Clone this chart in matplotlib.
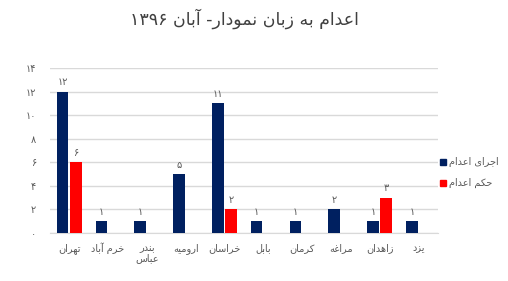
import matplotlib
matplotlib.use("Agg")
import matplotlib.pyplot as plt
import numpy as np
from matplotlib.lines import Line2D

# data
cities = ["تهران", "خرم آباد", "بندر\nعباس", "ارومیه", "خراسان",
          "بابل", "کرمان", "مراغه", "زاهدان", "یزد"]
executed = [12, 1, 1, 5, 11, 1, 1, 2, 1, 1]
sentenced = [6, 0, 0, 0, 2, 0, 0, 0, 3, 0]
series_names = ["اجرای اعدام", "حکم اعدام"]
title = "اعدام به زبان نمودار- آبان ۱۳۹۶"
yticks = [0, 2, 4, 6, 8, 10, 12, 14]

NAVY = "#002060"
RED = "#ff0000"
GREY = "#595959"

# minimal arabic shaping (matplotlib has no complex text layout)
FORMS = {
    "ا": ("\uFE8D", "\uFE8E", None, None),
    "آ": ("\uFE81", "\uFE82", None, None),
    "ب": ("\uFE8F", "\uFE90", "\uFE91", "\uFE92"),
    "ت": ("\uFE95", "\uFE96", "\uFE97", "\uFE98"),
    "ج": ("\uFE9D", "\uFE9E", "\uFE9F", "\uFEA0"),
    "ح": ("\uFEA1", "\uFEA2", "\uFEA3", "\uFEA4"),
    "خ": ("\uFEA5", "\uFEA6", "\uFEA7", "\uFEA8"),
    "د": ("\uFEA9", "\uFEAA", None, None),
    "ر": ("\uFEAD", "\uFEAE", None, None),
    "ز": ("\uFEAF", "\uFEB0", None, None),
    "س": ("\uFEB1", "\uFEB2", "\uFEB3", "\uFEB4"),
    "ع": ("\uFEC9", "\uFECA", "\uFECB", "\uFECC"),
    "غ": ("\uFECD", "\uFECE", "\uFECF", "\uFED0"),
    "ل": ("\uFEDD", "\uFEDE", "\uFEDF", "\uFEE0"),
    "م": ("\uFEE1", "\uFEE2", "\uFEE3", "\uFEE4"),
    "ن": ("\uFEE5", "\uFEE6", "\uFEE7", "\uFEE8"),
    "ه": ("\uFEE9", "\uFEEA", "\uFEEB", "\uFEEC"),
    "و": ("\uFEED", "\uFEEE", None, None),
    "ی": ("\uFBFC", "\uFBFD", "\uFBFE", "\uFBFF"),
    "ک": ("\uFB8E", "\uFB8F", "\uFB90", "\uFB91"),
}
DIGITS = "۰۱۲۳۴۵۶۷۸۹"


def shape_line(s):
    out = []
    for i, ch in enumerate(s):
        if ch not in FORMS:
            out.append(ch)
            continue
        f = FORMS[ch]
        prev = s[i - 1] if i > 0 else ""
        nxt = s[i + 1] if i + 1 < len(s) else ""
        joins_prev = prev in FORMS and FORMS[prev][2] is not None
        joins_next = nxt in FORMS and f[2] is not None
        if joins_prev and joins_next:
            out.append(f[3])
        elif joins_prev:
            out.append(f[1])
        elif joins_next:
            out.append(f[2])
        else:
            out.append(f[0])
    # reverse for display, keep digit runs left to right
    rev = "".join(reversed(out))
    res, run = [], ""
    for ch in rev:
        if ch in DIGITS:
            run += ch
        else:
            res.append(run[::-1])
            run = ""
            res.append(ch)
    res.append(run[::-1])
    return "".join(res)


def fa(s):
    return "\n".join(shape_line(line) for line in s.split("\n"))


def fa_num(n):
    return "".join(DIGITS[int(d)] for d in str(n))


plt.rcParams["font.family"] = ["DejaVu Sans"]

fig = plt.figure(figsize=(5.08, 2.81), dpi=100)
ax = fig.add_axes([0.098, 0.171, 0.764, 0.587])

x = np.arange(len(cities))
w = 0.3
off = 0.17
ax.bar(x - off, executed, w, color=NAVY, zorder=3)
ax.bar(x + off, sentenced, w, color=RED, zorder=3)

for xi, v in zip(x, executed):
    if v:
        ax.text(xi - off, v + 0.35, fa_num(v), ha="center", va="bottom",
                fontsize=7, color=GREY)
for xi, v in zip(x, sentenced):
    if v:
        ax.text(xi + off, v + 0.35, fa_num(v), ha="center", va="bottom",
                fontsize=7, color=GREY)

ax.set_xlim(-0.5, len(cities) - 0.5)
ax.set_ylim(0, 14)
ax.set_yticks(yticks)
ax.set_yticklabels([fa_num(t) for t in yticks], fontsize=7, color=GREY)
ax.set_xticks(x)
ax.set_xticklabels([fa(c) for c in cities], fontsize=7, color=GREY,
                   linespacing=1.1)
ax.tick_params(axis="both", length=0)
ax.tick_params(axis="y", pad=10)
ax.tick_params(axis="x", pad=7)
ax.grid(axis="y", color="#d9d9d9", linewidth=1, zorder=0)
for side in ["top", "right", "left"]:
    ax.spines[side].set_visible(False)
ax.spines["bottom"].set_color("#d9d9d9")

handles = [Line2D([], [], marker="s", linestyle="none", color=NAVY, markersize=5),
           Line2D([], [], marker="s", linestyle="none", color=RED, markersize=5)]
ax.legend(handles, [fa(n) for n in series_names], loc="center left",
          bbox_to_anchor=(1.0, 0.364), frameon=False, fontsize=7,
          handlelength=0.6, handletextpad=0.3, labelspacing=1.1,
          borderaxespad=0, borderpad=0.2, labelcolor=GREY)

fig.text(0.482, 0.935, fa(title), ha="center", va="center", fontsize=12.5,
         color="#404040")

fig.savefig("out.png", dpi=100)
